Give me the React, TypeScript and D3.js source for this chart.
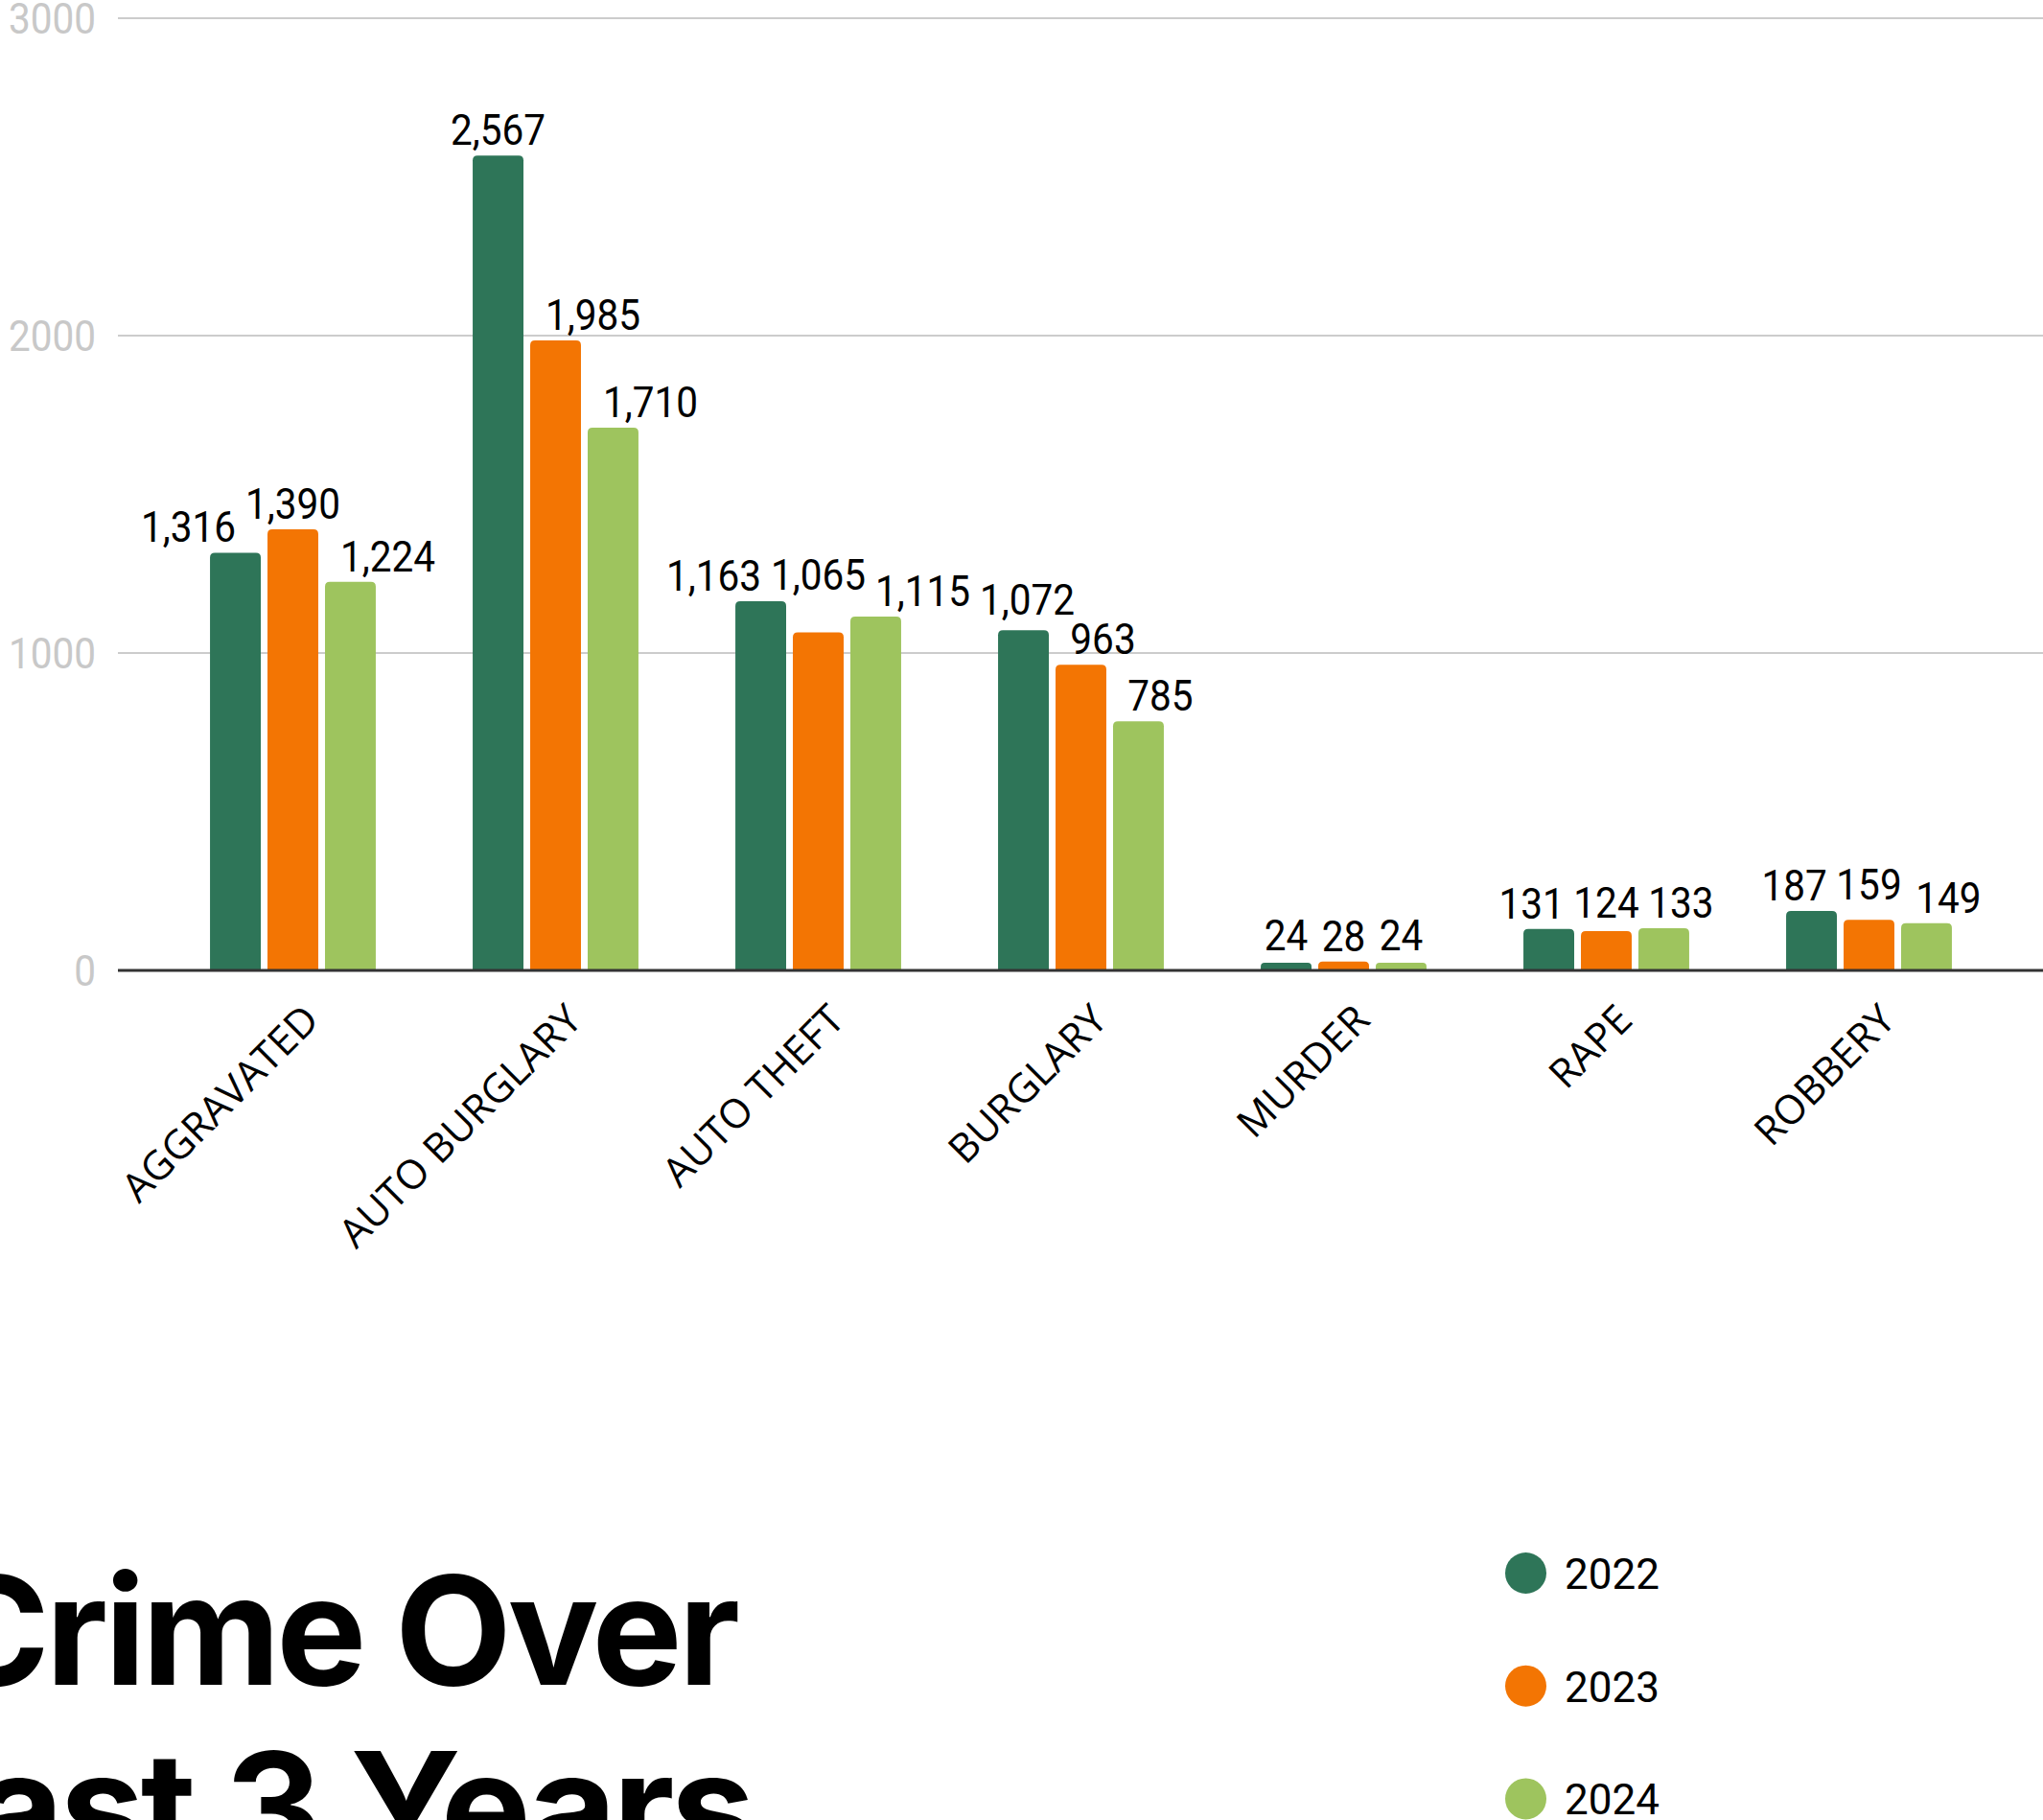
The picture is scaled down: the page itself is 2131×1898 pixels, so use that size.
import React, { useMemo, useEffect } from "react";
import * as d3 from "d3";

const categories = ["AGGRAVATED", "AUTO BURGLARY", "AUTO THEFT", "BURGLARY", "MURDER", "RAPE", "ROBBERY"];
const years = ["2022", "2023", "2024"];
const values2022 = [1316, 2567, 1163, 1072, 24, 131, 187];
const values2023 = [1390, 1985, 1065, 963, 28, 124, 159];
const values2024 = [1224, 1710, 1115, 785, 24, 133, 149];
const yTicks = [0, 1000, 2000, 3000];
const seriesColors = ["#2E7558", "#F37503", "#9EC45E"];
const titleLines = ["Crime Over", "Last 3 Years"];

const W = 2131;
const H = 1898;
const fmt = d3.format(",");

const LABEL_FS = 45;
const LABEL_SX = 0.9;

function labelWidth(s: string) {
  let w = 0;
  for (const ch of s) w += ch === "," ? 0.197 : 0.5625;
  return w * LABEL_FS * LABEL_SX;
}

export default function App() {
  useEffect(() => {
    document.body.style.margin = "0";
    document.body.style.overflow = "hidden";
  }, []);

  const series = [values2022, values2023, values2024];

  const x0 = d3.scaleBand<string>().domain(categories).range([168.5, 2086.5]).paddingInner(0.369).paddingOuter(0.1845);
  const x1 = d3.scaleBand<string>().domain(years).range([0, x0.bandwidth()]).paddingInner(0.117);
  const y = d3.scaleLinear().domain([0, 3000]).range([1012, 19]);

  const bars = useMemo(() => {
    const out: { x: number; w: number; top: number; v: number; s: number; c: number }[] = [];
    categories.forEach((cat, ci) => {
      years.forEach((yr, si) => {
        const v = series[si][ci];
        out.push({ x: (x0(cat) as number) + (x1(yr) as number), w: x1.bandwidth(), top: y(v), v, s: si, c: ci });
      });
    });
    return out;
  }, []);

  const labels = useMemo(() => {
    const placed: { cx: number; base: number; w: number; text: string }[] = [];
    const CAP = 32;
    const HP = 22, VP = 11, LP = 9;
    const collides = (l: number, r: number, t: number, b: number) => {
      for (const bar of bars) {
        if (l < bar.x + bar.w + HP && r > bar.x - HP && b > bar.top - VP) return true;
      }
      for (const p of placed) {
        const pl = p.cx - p.w / 2, pr = p.cx + p.w / 2, pt = p.base - CAP, pb = p.base;
        if (l < pr + LP && r > pl - LP && t < pb + LP && b > pt - LP) return true;
      }
      return false;
    };
    categories.forEach((cat, ci) => {
      [1, 0, 2].forEach((si) => {
        const bar = bars.find((b) => b.c === ci && b.s === si)!;
        const text = fmt(bar.v);
        const w = labelWidth(text);
        const cx0 = bar.x + bar.w / 2;
        const base0 = bar.top - VP;
        let best = { dx: 0, dy: 0, cost: Infinity };
        for (let dy = 0; dy <= 300; dy++) {
          if (2 * dy >= best.cost) break;
          for (let a = 0; a <= 260; a++) {
            const cost = a + 2 * dy;
            if (cost >= best.cost) break;
            for (const dx of a === 0 ? [0] : [-a, a]) {
              const cx = cx0 + dx;
              const base = base0 - dy;
              if (!collides(cx - w / 2, cx + w / 2, base - CAP, base)) {
                if (cost < best.cost) best = { dx, dy, cost };
                break;
              }
            }
          }
        }
        placed.push({ cx: cx0 + best.dx, base: base0 - best.dy, w, text });
      });
    });
    return placed;
  }, [bars]);

  const barPath = (b: { x: number; w: number; top: number }) => {
    const r = Math.min(5, (y(0) - b.top) / 2);
    const bottom = y(0);
    return `M${b.x},${bottom}V${b.top + r}Q${b.x},${b.top} ${b.x + r},${b.top}H${b.x + b.w - r}Q${b.x + b.w},${b.top} ${b.x + b.w},${b.top + r}V${bottom}Z`;
  };

  return (
    <svg width={W} height={H} style={{ display: "block", position: "absolute", left: 0, top: 0 }}>
      <rect width={W} height={H} fill="#ffffff" />
      {yTicks.filter((t) => t > 0).map((t) => (
        <line key={t} x1={123} x2={W} y1={y(t)} y2={y(t)} stroke="#cccccc" strokeWidth={2} />
      ))}
      {yTicks.map((t) => (
        <text
          key={"l" + t}
          transform={`translate(100,${Math.max(y(t) + 16, 34)}) scale(${LABEL_SX},1)`}
          textAnchor="end"
          fontFamily="Roboto"
          fontSize={LABEL_FS}
          fill="#c8c8c8"
        >
          {t}
        </text>
      ))}
      {bars.map((b, i) => (
        <path key={i} d={barPath(b)} fill={seriesColors[b.s]} />
      ))}
      <line x1={123} x2={W} y1={y(0)} y2={y(0)} stroke="#333333" strokeWidth={3} />
      {labels.map((l, i) => (
        <text
          key={"v" + i}
          transform={`translate(${l.cx},${l.base}) scale(${LABEL_SX},1)`}
          textAnchor="middle"
          fontFamily="Roboto"
          fontSize={LABEL_FS}
          fill="#000"
        >
          {l.text}
        </text>
      ))}
      {categories.map((c) => {
        const cx = (x0(c) as number) + x0.bandwidth() / 2 + 29.5;
        return (
          <text
            key={c}
            transform={`translate(${cx},1066) rotate(-45)`}
            textAnchor="end"
            fontFamily="'Open Sans'"
            fontSize={42}
            fill="#000"
          >
            {c}
          </text>
        );
      })}
      <text x={768} y={1757} textAnchor="end" fontFamily="Inter" fontWeight={700} fontSize={158} letterSpacing={-4} fill="#000">
        {titleLines[0]}
      </text>
      <text x={784} y={1941} textAnchor="end" fontFamily="Inter" fontWeight={700} fontSize={158} letterSpacing={-4} fill="#000">
        {titleLines[1]}
      </text>
      {years.map((yr, i) => (
        <g key={yr} transform={`translate(0,${1640.5 + i * 117.7})`}>
          <circle cx={1591.5} cy={0} r={21.5} fill={seriesColors[i]} />
          <text x={1632} y={16.5} fontFamily="Roboto" fontSize={44} fill="#000">
            {yr}
          </text>
        </g>
      ))}
    </svg>
  );
}
